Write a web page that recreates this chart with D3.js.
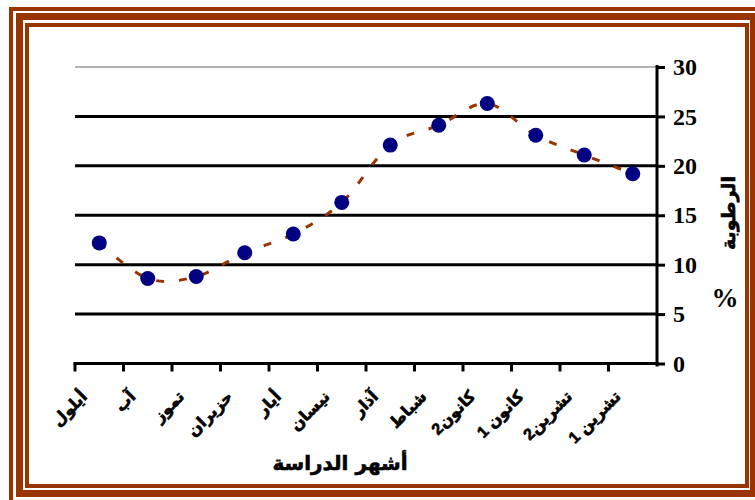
<!DOCTYPE html>
<html>
<head>
<meta charset="utf-8">
<script src="https://cdn.jsdelivr.net/npm/d3@7/dist/d3.min.js"></script>
<style>
  html, body { margin: 0; padding: 0; background: #fff; }
  svg { display: block; }
</style>
</head>
<body>
<svg id="chart" width="755" height="500"></svg>
<script>
// Months of the study period, as shown along the horizontal axis (left to right)
const months = ["أيلول", "آب", "تموز", "حزيران", "أيار", "نيسان", "آذار", "شباط", "كانون2", "كانون 1", "تشرين2", "تشرين 1"];
// Relative humidity (%) for each month
const humidity = [12.2, 8.6, 8.8, 11.2, 13.1, 16.3, 22.1, 24.1, 26.3, 23.1, 21.1, 19.2];
// Vertical axis ticks
const yTicks = [0, 5, 10, 15, 20, 25, 30];

const xTitle = "أشهر الدراسة";
const yTitle = "الرطوبة";
const yUnit = "%";

const svg = d3.select("#chart");
const brown = "#993300";
const arabicFont = "'DejaVu Sans', sans-serif";

// Decorative triple frame
const frame = svg.append("g").attr("fill", "none").attr("stroke", brown);
frame.append("rect").attr("x", 11).attr("y", 9).attr("width", 760).attr("height", 500).attr("stroke-width", 4);
frame.append("rect").attr("x", 19.5).attr("y", 16.5).attr("width", 734).attr("height", 477).attr("stroke-width", 7);
frame.append("rect").attr("x", 27).attr("y", 25).attr("width", 720).attr("height", 461).attr("stroke-width", 4);

// Scales
const x = d3.scaleBand().domain(months).range([75, 657]).padding(0);
const y = d3.scaleLinear().domain([0, 30]).range([363.5, 67]);

// Horizontal gridlines
svg.append("g")
  .selectAll("line")
  .data(yTicks.filter(t => t > 0))
  .join("line")
  .attr("x1", x.range()[0])
  .attr("x2", x.range()[1])
  .attr("y1", d => y(d))
  .attr("y2", d => y(d))
  .attr("stroke", d => d === 30 ? "#9a9a9a" : "#000")
  .attr("stroke-width", d => d === 30 ? 1.5 : 3);

// Right-hand value axis
const yAxis = svg.append("g")
  .attr("transform", `translate(${x.range()[1]},0)`)
  .call(d3.axisRight(y).tickValues(yTicks).tickSize(8).tickPadding(8).tickFormat(d3.format("d")));
yAxis.select(".domain").attr("stroke", "#000").attr("stroke-width", 3)
  .attr("d", `M0,${y(30) - 2}V${y(0) + 3}`);
yAxis.selectAll(".tick line").attr("stroke", "#000").attr("stroke-width", 3);
yAxis.selectAll(".tick text")
  .attr("fill", "#000")
  .attr("font-family", "'Liberation Serif', 'Times New Roman', serif")
  .attr("font-weight", "bold")
  .attr("font-size", 24);
yAxis.attr("font-size", null).attr("font-family", null);

// Category axis along the bottom, ticks at month boundaries
const xAxis = svg.append("g");
xAxis.append("line")
  .attr("x1", x.range()[0] - 1.5).attr("x2", x.range()[1] + 1.5)
  .attr("y1", y(0)).attr("y2", y(0))
  .attr("stroke", "#000").attr("stroke-width", 3);
xAxis.selectAll("line.tick")
  .data(months)
  .join("line")
  .attr("class", "tick")
  .attr("x1", d => x(d)).attr("x2", d => x(d))
  .attr("y1", y(0)).attr("y2", y(0) + 8)
  .attr("stroke", "#000").attr("stroke-width", 3);

// Rotated month labels
xAxis.selectAll("text")
  .data(months)
  .join("text")
  .attr("transform", d => `translate(${x(d) + x.bandwidth() / 2 - 11},${y(0) + 34}) rotate(-45)`)
  .attr("text-anchor", "end")
  .attr("font-family", "'Liberation Sans', " + arabicFont)
  .attr("font-weight", "bold")
  .attr("font-size", 16)
  .attr("fill", "#000")
  .attr("stroke", "#000")
  .attr("stroke-width", 0.6)
  .text(d => d);

// Axis titles
svg.append("text")
  .attr("x", 340).attr("y", 470)
  .attr("text-anchor", "middle")
  .attr("font-family", arabicFont)
  .attr("font-weight", "bold")
  .attr("font-size", 20)
  .attr("fill", "#000")
  .attr("stroke", "#000")
  .attr("stroke-width", 0.6)
  .text(xTitle);

svg.append("text")
  .attr("transform", "translate(735,213) rotate(-90)")
  .attr("text-anchor", "middle")
  .attr("font-family", arabicFont)
  .attr("font-weight", "bold")
  .attr("font-size", 19)
  .attr("fill", "#000")
  .attr("stroke", "#000")
  .attr("stroke-width", 0.6)
  .text(yTitle);

svg.append("text")
  .attr("x", 725).attr("y", 307)
  .attr("text-anchor", "middle")
  .attr("font-family", "'Liberation Serif', 'Times New Roman', serif")
  .attr("font-weight", "bold")
  .attr("font-size", 27)
  .attr("fill", "#000")
  .text(yUnit);

// Smoothed dashed trend line
const pts = months.map((m, i) => [x(m) + x.bandwidth() / 2, y(humidity[i])]);
svg.append("path")
  .attr("d", d3.line().curve(d3.curveCatmullRom.alpha(0))(pts))
  .attr("fill", "none")
  .attr("stroke", brown)
  .attr("stroke-width", 3)
  .attr("stroke-dasharray", "8,15");

// Monthly markers
svg.append("g")
  .selectAll("circle")
  .data(humidity)
  .join("circle")
  .attr("cx", (d, i) => x(months[i]) + x.bandwidth() / 2)
  .attr("cy", d => y(d))
  .attr("r", 7.5)
  .attr("fill", "#000080");
</script>
</body>
</html>
